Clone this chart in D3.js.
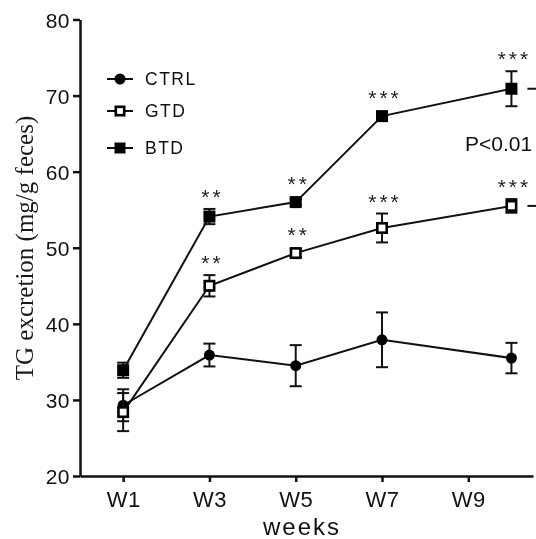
<!DOCTYPE html>
<html>
<head>
<meta charset="utf-8">
<script src="https://cdn.jsdelivr.net/npm/d3@7/dist/d3.min.js"></script>
<style>
    html, body { margin: 0; padding: 0; background: #fff; }
    #chart { filter: grayscale(1); }
    svg { display: block; }
    text { font-family: "Liberation Sans", Arial, sans-serif; fill: #111; }
</style>
</head>
<body>
<div id="chart"></div>
<script>
// data (mean, error)
var weeks = [1, 3, 5, 7, 10];
var tickWeeks = [1, 3, 5, 7, 9];
var tickLabels = ['W1', 'W3', 'W5', 'W7', 'W9'];
var yTicks = [20, 30, 40, 50, 60, 70, 80];

var ctrlMean = [29.3, 35.9, 34.5, 37.9, 35.5];
var ctrlErr  = [2.1, 1.5, 2.7, 3.6, 2.0];
var gtdMean  = [28.4, 45.0, 49.3, 52.6, 55.5];
var gtdErr   = [2.5, 1.4, 0.5, 1.9, 0.9];
var btdMean  = [33.9, 54.1, 56.0, 67.3, 70.9];
var btdErr   = [1.0, 1.0, 0.4, 0.4, 2.3];

var gtdStars = ['', '**', '**', '***', '***'];
var btdStars = ['', '**', '**', '***', '***'];

var series = [
    {name: 'CTRL', mean: ctrlMean, err: ctrlErr, marker: 'circle', fill: '#000', stars: null},
    {name: 'GTD',  mean: gtdMean,  err: gtdErr,  marker: 'square', fill: '#fff', stars: gtdStars},
    {name: 'BTD',  mean: btdMean,  err: btdErr,  marker: 'square', fill: '#000', stars: btdStars}
];

var W = 536, H = 539;
var svg = d3.select('#chart').append('svg').attr('width', W).attr('height', H);

var x = d3.scaleLinear().domain([0, 10.5]).range([80, 533]);
var y = d3.scaleLinear().domain([20, 80]).range([476, 19.5]);

// axes
var yAxis = svg.append('g').attr('transform', 'translate(80,0)')
    .call(d3.axisLeft(y).tickValues(yTicks).tickSize(7).tickSizeOuter(0));
yAxis.selectAll('text').attr('font-size', 21).attr('letter-spacing', 0.5)
    .attr('x', -10).attr('dy', '0.36em')
    .style('font-family', '"Liberation Sans", Arial, sans-serif').style('fill', '#111');

var xAxis = svg.append('g').attr('transform', 'translate(0,476)')
    .call(d3.axisBottom(x).tickValues(tickWeeks).tickFormat(function(d, i) { return tickLabels[i]; })
        .tickSize(6).tickSizeOuter(0));
xAxis.selectAll('text').attr('font-size', 22).attr('letter-spacing', 0.5)
    .attr('y', 15).attr('dy', '0.71em')
    .style('font-family', '"Liberation Sans", Arial, sans-serif').style('fill', '#111');

svg.selectAll('.domain, .tick line').attr('stroke', '#111').attr('stroke-width', 2.5);

// axis titles
svg.append('text')
    .attr('transform', 'translate(33,248) rotate(-90)')
    .attr('text-anchor', 'middle')
    .style('font-family', '"Liberation Serif", "Times New Roman", serif')
    .style('fill', '#1a1a1a')
    .attr('font-size', 25)
    .text('TG excretion (mg/g feces)');

svg.append('text')
    .attr('x', 302).attr('y', 535)
    .attr('text-anchor', 'middle')
    .attr('font-size', 24).attr('letter-spacing', 2)
    .text('weeks');

// lines
var line = d3.line()
    .x(function(d, i) { return x(weeks[i]); })
    .y(function(d) { return y(d); });

series.forEach(function(s) {
    svg.append('path')
        .attr('d', line(s.mean))
        .attr('fill', 'none')
        .attr('stroke', '#111')
        .attr('stroke-width', 2);
});

// error bars + markers
function drawMarker(g, s, cx, cy, size) {
    if (s.marker === 'circle') {
        g.append('circle').attr('cx', cx).attr('cy', cy).attr('r', size / 2)
            .attr('fill', '#000');
    } else if (s.fill === '#fff') {
        g.append('rect').attr('x', cx - size / 2 + 1.3).attr('y', cy - size / 2 + 1.3)
            .attr('width', size - 2.6).attr('height', size - 2.6)
            .attr('fill', '#fff').attr('stroke', '#000').attr('stroke-width', 2.6);
    } else {
        g.append('rect').attr('x', cx - size / 2).attr('y', cy - size / 2)
            .attr('width', size).attr('height', size).attr('fill', '#000');
    }
}

series.forEach(function(s) {
    var g = svg.append('g');
    s.mean.forEach(function(m, i) {
        var cx = x(weeks[i]);
        var top = y(m + s.err[i]), bot = y(m - s.err[i]);
        g.append('line').attr('x1', cx).attr('x2', cx).attr('y1', top).attr('y2', bot)
            .attr('stroke', '#111').attr('stroke-width', 2);
        [top, bot].forEach(function(v) {
            g.append('line').attr('x1', cx - 6).attr('x2', cx + 6).attr('y1', v).attr('y2', v)
                .attr('stroke', '#111').attr('stroke-width', 2);
        });
    });
    s.mean.forEach(function(m, i) {
        drawMarker(g, s, x(weeks[i]), y(m), s.marker === 'circle' ? 11 : 12);
    });
    // significance stars, just above the error bar
    if (s.stars) {
        s.stars.forEach(function(st, i) {
            if (!st) return;
            var topPx = Math.min(y(s.mean[i]) - 6, y(s.mean[i] + s.err[i]));
            svg.append('text')
                .attr('x', x(weeks[i]) + 3).attr('y', topPx - 16 + 11)
                .attr('text-anchor', 'middle')
                .attr('font-size', 21).attr('letter-spacing', 3)
                .style('fill', '#222')
                .text(st);
        });
    }
});

// bracket stubs and p value at the right edge
[btdMean, gtdMean].forEach(function(arr) {
    var last = arr[arr.length - 1];
    svg.append('line').attr('x1', x(10) + 16).attr('x2', 537)
        .attr('y1', y(last)).attr('y2', y(last))
        .attr('stroke', '#111').attr('stroke-width', 2);
});
svg.append('text').attr('x', 465).attr('y', 151)
    .attr('font-size', 21).text('P<0.01');

// legend
var legend = svg.append('g');
series.forEach(function(s, i) {
    var ly = [79, 111, 148][i];
    legend.append('line').attr('x1', 107).attr('x2', 133).attr('y1', ly).attr('y2', ly)
        .attr('stroke', '#111').attr('stroke-width', 2);
    drawMarker(legend, s, 120, ly, 11);
    legend.append('text').attr('x', 145).attr('y', ly).attr('dy', '0.36em')
        .attr('font-size', 17.5).attr('letter-spacing', 1.5)
        .text(s.name);
});
</script>
</body>
</html>
